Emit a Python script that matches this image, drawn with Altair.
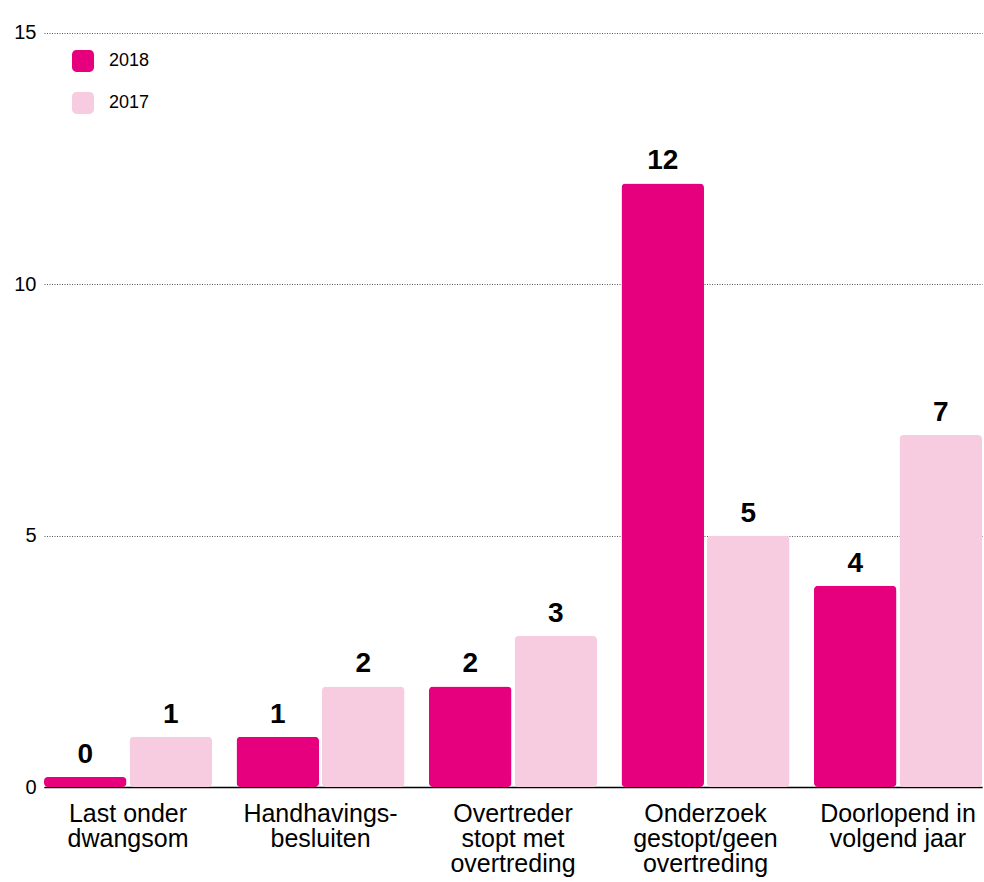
import altair as alt
import pandas as pd

categories = ["Last onder|dwangsom", "Handhavings-|besluiten", "Overtreder|stopt met|overtreding",
              "Onderzoek|gestopt/geen|overtreding", "Doorlopend in|volgend jaar"]
values_2018 = [0, 1, 2, 12, 4]
values_2017 = [1, 2, 3, 5, 7]
series = ["2018", "2017"]
colors = ["#E6007E", "#F7CCE0"]
y_ticks = [0, 5, 10, 15]

rows = []
for c, a, b in zip(categories, values_2018, values_2017):
    rows.append({"cat": c, "jaar": "2018", "val": a, "bar": max(a, 0.2)})
    rows.append({"cat": c, "jaar": "2017", "val": b, "bar": max(b, 0.2)})
df = pd.DataFrame(rows)

FONT = "Liberation Sans"
rounded = ("M-0.6,-1 H0.6 A0.4,0.4 0 0 1 1,-0.6 V0.6 A0.4,0.4 0 0 1 0.6,1 "
           "H-0.6 A0.4,0.4 0 0 1 -1,0.6 V-0.6 A0.4,0.4 0 0 1 -0.6,-1 Z")

x = alt.X("cat:N", sort=categories, title=None,
          scale=alt.Scale(paddingInner=0.127, paddingOuter=0.0),
          axis=alt.Axis(labelExpr="split(datum.label, '|')", labelAngle=0, labelFontSize=25,
                        labelFont=FONT, labelColor="#000", labelLineHeight=25, labelPadding=14,
                        ticks=False, domainColor="#000", domainWidth=1.5, labelBaseline="top"))
xo = alt.XOffset("jaar:N", sort=series, scale=alt.Scale(paddingInner=0.035, paddingOuter=0))
y = alt.Y("bar:Q", title=None,
          scale=alt.Scale(domain=[0, 15.25], nice=False),
          axis=alt.Axis(values=y_ticks, labelFontSize=20, labelFont=FONT, labelColor="#000",
                        labelPadding=8, ticks=False, domain=False, grid=True,
                        gridDash=[1, 1.5], gridColor="#555", gridWidth=1))
color = alt.Color("jaar:N", sort=series, title=None,
                  scale=alt.Scale(domain=series, range=colors),
                  legend=alt.Legend(orient="none", legendX=28, legendY=30, symbolType=rounded,
                                    symbolSize=484, symbolStrokeWidth=0, labelFontSize=18,
                                    labelFont=FONT, labelColor="#000", labelOffset=15,
                                    rowPadding=20, padding=0))

bars = alt.Chart(df).mark_bar(cornerRadius=4).encode(x=x, xOffset=xo, y=y, color=color)
labels = alt.Chart(df).mark_text(baseline="bottom", dy=-8, fontSize=28, fontWeight="bold",
                                 font=FONT, color="#000").encode(
    x=alt.X("cat:N", sort=categories), xOffset=xo, y=alt.Y("bar:Q"), text=alt.Text("val:Q"))

chart = alt.layer(bars, labels).properties(
    width=938, height=767,
    autosize=alt.AutoSizeParams(type="none"),
    padding={"left": 44, "top": 20, "right": 2, "bottom": 95},
).configure_view(stroke=None).configure_axis(gridOpacity=1)

chart.save("out.html", embed_options={"renderer": "svg", "actions": False})
